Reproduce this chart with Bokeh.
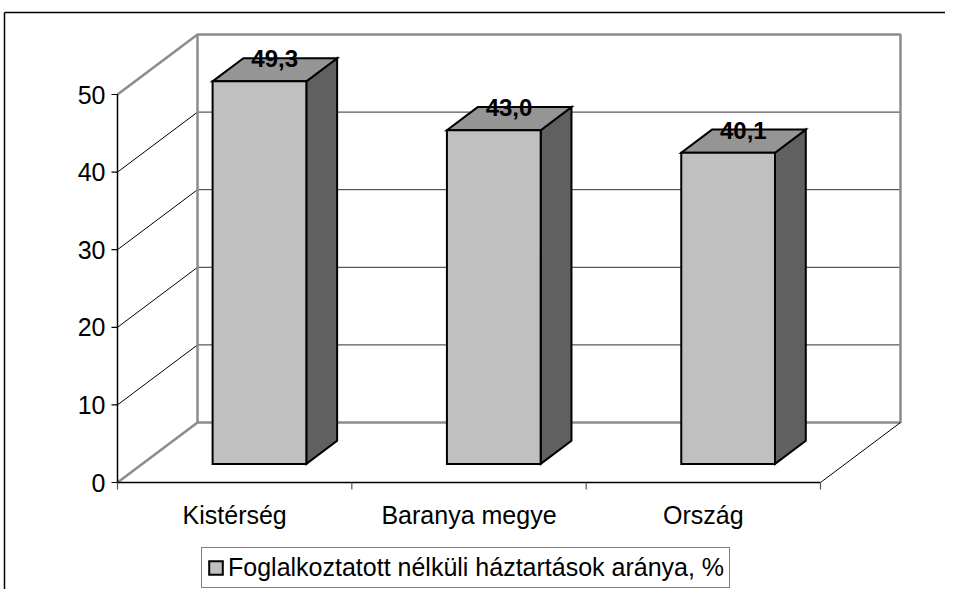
from bokeh.plotting import figure
from bokeh.models import Range1d, Legend, LegendItem, ColumnDataSource
from bokeh.core.properties import value
from bokeh.embed import file_html
from bokeh.resources import INLINE

# ---- data ----
categories = ["Kistérség", "Baranya megye", "Ország"]
values = [49.3, 43.0, 40.1]
value_labels = ["49,3", "43,0", "40,1"]
y_ticks = [0, 10, 20, 30, 40, 50]
y_tick_labels = ["0", "10", "20", "30", "40", "50"]
series_name = "Foglalkoztatott nélküli háztartások aránya, %"

# ---- geometry (screen scale of the pseudo-3D projection) ----
W, H = 945, 589
X0_PX = 117          # canvas px where category axis starts
Y0_PX = 482          # canvas px (from top) of value 0
XS = 234.33          # px per category
YS = 7.76            # px per value unit
DX = 80 / XS         # depth shift (x, data units)
DY = 60 / YS         # depth shift (y, data units)
D0, D1 = 0.31, 0.695 # bar depth fractions
HALF = 0.2           # half bar width (category units)
FONT = "Liberation Sans"
FS = "25px"

ncat = len(categories)
vmax = y_ticks[-1]

p = figure(width=W, height=H, output_backend="svg", toolbar_location=None,
           x_range=Range1d(-X0_PX / XS, (W - X0_PX) / XS),
           y_range=Range1d(-(H - Y0_PX) / YS, Y0_PX / YS),
           x_axis_location=None, y_axis_location=None, min_border=0)
p.outline_line_color = None
p.xgrid.visible = False
p.ygrid.visible = False
p.background_fill_color = "white"
p.border_fill_color = "white"

# ---- outer chart border ----
xl0 = p.x_range.start + 4.0 / XS
yt0 = p.y_range.end - 12.0 / YS
p.segment(x0=[xl0, xl0], y0=[yt0, yt0], x1=[p.x_range.end + 1, xl0],
          y1=[yt0, p.y_range.start - 1], line_color="black", line_width=1.5)

# ---- walls ----
inner = y_ticks[1:-1]
# back wall gridlines
p.segment(x0=[DX] * len(inner), y0=[t + DY for t in inner],
          x1=[ncat + DX] * len(inner), y1=[t + DY for t in inner],
          line_color="#303030", line_width=1)
# side wall gridlines
p.segment(x0=[0] * len(inner), y0=inner, x1=[DX] * len(inner),
          y1=[t + DY for t in inner], line_color="black", line_width=1)
# back wall outline
p.quad(left=[DX], right=[ncat + DX], bottom=[DY], top=[vmax + DY],
       fill_color=None, line_color="#8c8c8c", line_width=2.5)
# side wall outer edges
p.segment(x0=[0, 0], y0=[0, vmax], x1=[DX, DX], y1=[DY, vmax + DY],
          line_color="#8c8c8c", line_width=2.5)
# floor right edge
p.segment(x0=[ncat], y0=[0], x1=[ncat + DX], y1=[DY],
          line_color="black", line_width=1)

# ---- front axes ----
p.segment(x0=[0, 0], y0=[0, 0], x1=[0, ncat], y1=[vmax, 0],
          line_color="black", line_width=1.5)
p.segment(x0=[-6 / XS] * len(y_ticks), y0=y_ticks, x1=[0] * len(y_ticks),
          y1=y_ticks, line_color="black", line_width=1.2)
cat_edges = list(range(ncat + 1))
p.segment(x0=cat_edges, y0=[0] * len(cat_edges), x1=cat_edges,
          y1=[-7 / YS] * len(cat_edges), line_color="#555555", line_width=1.2)

p.text(x=[-12 / XS] * len(y_ticks), y=y_ticks, text=y_tick_labels,
       text_align="right", text_baseline="middle",
       text_font=value(FONT), text_font_size=FS, text_color="black")

cat_x = [i + 0.5 for i in range(ncat)]
p.text(x=cat_x, y=[-32 / YS] * ncat, text=categories,
       text_align="center", text_baseline="alphabetic",
       text_font=value(FONT), text_font_size=FS, text_color="black")

# ---- bars ----
xl = [c - HALF for c in cat_x]
xr = [c + HALF for c in cat_x]
side = ColumnDataSource(dict(
    xs=[[r + D0 * DX, r + D1 * DX, r + D1 * DX, r + D0 * DX] for r in xr],
    ys=[[D0 * DY, D1 * DY, v + D1 * DY, v + D0 * DY] for v in values]))
top = ColumnDataSource(dict(
    xs=[[l + D0 * DX, r + D0 * DX, r + D1 * DX, l + D1 * DX] for l, r in zip(xl, xr)],
    ys=[[v + D0 * DY, v + D0 * DY, v + D1 * DY, v + D1 * DY] for v in values]))
front = ColumnDataSource(dict(
    left=[l + D0 * DX for l in xl], right=[r + D0 * DX for r in xr],
    bottom=[D0 * DY] * ncat, top=[v + D0 * DY for v in values]))

p.patches(xs="xs", ys="ys", source=side, fill_color="#606060",
          line_color="black", line_width=2, line_join="miter")
p.patches(xs="xs", ys="ys", source=top, fill_color="#959595",
          line_color="black", line_width=2, line_join="miter")
front_r = p.quad(left="left", right="right", bottom="bottom", top="top",
                 source=front, fill_color="#c0c0c0", line_color="black",
                 line_width=2, line_join="miter")

# data labels
p.text(x=[c + 0.5 * DX for c in cat_x],
       y=[v + 0.5 * DY + 11 / YS for v in values], text=value_labels,
       text_align="center", text_baseline="alphabetic",
       text_font=value(FONT), text_font_size="24px", text_font_style="bold",
       text_color="black")

# ---- legend ----
legend = Legend(items=[LegendItem(label=series_name, renderers=[front_r])],
                location=(201, 1), orientation="vertical",
                padding=5, margin=0, spacing=0,
                glyph_width=17, glyph_height=17, label_standoff=4,
                border_line_color="black", border_line_width=1,
                label_text_font=FONT, label_text_font_size=FS,
                label_text_color="black", background_fill_color="white",
                background_fill_alpha=1)
p.add_layout(legend)

open("out.html", "w").write(file_html(p, INLINE))
